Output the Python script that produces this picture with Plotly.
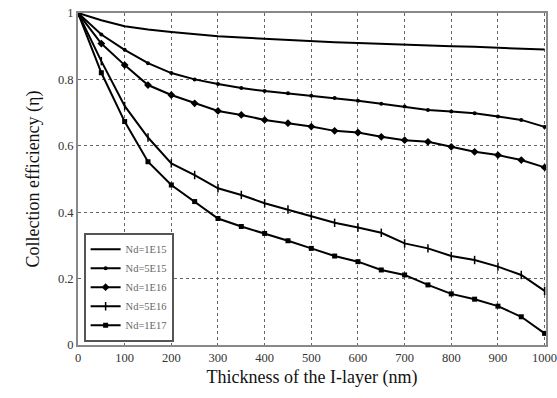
import plotly.graph_objects as go

thickness = [0, 50, 100, 150, 200, 250, 300, 350, 400, 450, 500, 550, 600, 650, 700, 750, 800, 850, 900, 950, 1000]
eff_1e15 = [1.0, 0.978, 0.960, 0.950, 0.943, 0.936, 0.930, 0.926, 0.922, 0.918, 0.915, 0.912, 0.910, 0.907, 0.905, 0.902, 0.900, 0.898, 0.896, 0.893, 0.890]
eff_5e15 = [1.0, 0.935, 0.889, 0.849, 0.819, 0.800, 0.786, 0.774, 0.765, 0.758, 0.751, 0.744, 0.736, 0.727, 0.718, 0.708, 0.703, 0.698, 0.688, 0.678, 0.657]
eff_1e16 = [1.0, 0.908, 0.843, 0.783, 0.753, 0.728, 0.705, 0.693, 0.678, 0.668, 0.658, 0.645, 0.640, 0.627, 0.617, 0.612, 0.597, 0.582, 0.572, 0.557, 0.535]
eff_5e16 = [1.0, 0.855, 0.720, 0.625, 0.547, 0.512, 0.472, 0.452, 0.427, 0.408, 0.389, 0.368, 0.354, 0.338, 0.306, 0.291, 0.268, 0.256, 0.236, 0.211, 0.163]
eff_1e17 = [1.0, 0.820, 0.673, 0.552, 0.482, 0.432, 0.381, 0.357, 0.336, 0.314, 0.291, 0.268, 0.251, 0.226, 0.211, 0.181, 0.154, 0.138, 0.117, 0.085, 0.035]
labels = ["Nd=1E15", "Nd=5E15", "Nd=1E16", "Nd=5E16", "Nd=1E17"]
x_ticks = [0, 100, 200, 300, 400, 500, 600, 700, 800, 900, 1000]
y_ticks = [0, 0.2, 0.4, 0.6, 0.8, 1]
y_ticktext = ["0", "0.2", "0.4", "0.6", "0.8", "1"]

series = [eff_1e15, eff_5e15, eff_1e16, eff_5e16, eff_1e17]
markers = [None,
           dict(symbol="circle", size=4),
           dict(symbol="diamond", size=6),
           dict(symbol="line-ns-open", size=6, line=dict(width=1.5, color="black")),
           dict(symbol="square", size=5)]

fig = go.Figure()
for lab, ys, mk in zip(labels, series, markers):
    if mk is None:
        fig.add_trace(go.Scatter(x=thickness, y=ys, name=lab, mode="lines",
                                 line=dict(color="black", width=2)))
    else:
        m = dict(color="black")
        m.update(mk)
        fig.add_trace(go.Scatter(x=thickness, y=ys, name=lab, mode="lines+markers",
                                 line=dict(color="black", width=2), marker=m))

font_family = "Liberation Serif"
fig.update_layout(
    width=557, height=398,
    margin=dict(l=78, r=11, t=13, b=53),
    paper_bgcolor="white", plot_bgcolor="white",
    font=dict(family=font_family, color="#222"),
    showlegend=True,
    legend=dict(x=0.012, y=0.01, xanchor="left", yanchor="bottom",
                bgcolor="white", bordercolor="#555", borderwidth=2,
                font=dict(family=font_family, size=10.5, color="#666"),
                tracegroupgap=0, itemwidth=30),
    xaxis=dict(range=[0, 1003], tickvals=x_ticks, showgrid=True,
               gridcolor="#666", griddash="dot", gridwidth=1,
               showline=True, linecolor="#888", linewidth=2, mirror=True,
               ticks="", zeroline=False, ticklabeloverflow="allow", automargin=False,
               tickfont=dict(size=12.5, family=font_family, color="#333"),
               title=dict(text="Thickness of the I-layer (nm)",
                          font=dict(size=18, family=font_family, color="#111"),
                          standoff=6)),
    yaxis=dict(range=[0, 1], tickvals=y_ticks, ticktext=y_ticktext, showgrid=True,
               gridcolor="#666", griddash="dot", gridwidth=1,
               showline=True, linecolor="#888", linewidth=2, mirror=True,
               ticks="", zeroline=False, automargin=False,
               tickfont=dict(size=12.5, family=font_family, color="#333"),
               title=dict(text="Collection efficiency (η)",
                          font=dict(size=18, family=font_family, color="#111"),
                          standoff=14)),
)

fig.write_html("out.html")
